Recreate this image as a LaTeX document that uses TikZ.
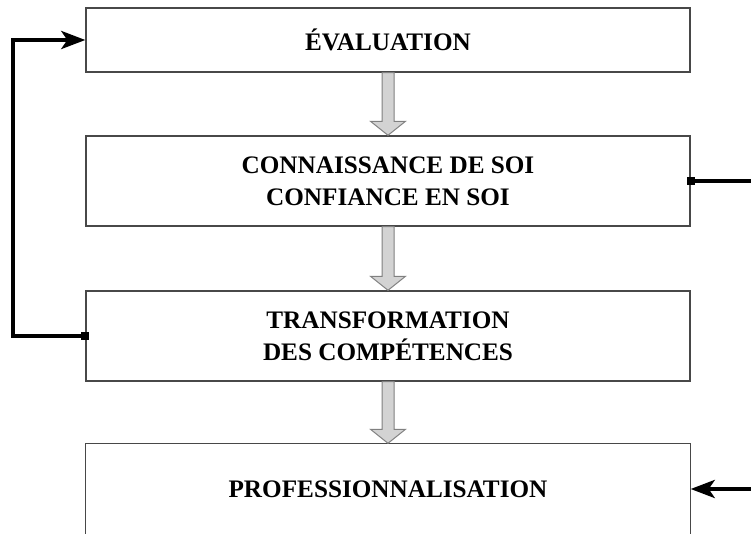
\documentclass[tikz,border=0pt]{standalone}
\usepackage{fontspec}
\setmainfont{Liberation Serif}
\usetikzlibrary{calc,arrows.meta}
\definecolor{boxline}{HTML}{484848}
\definecolor{arrfill}{HTML}{D3D3D3}
\definecolor{arrline}{HTML}{808080}
\tikzset{
  box/.style={draw=boxline, line width=0.7pt, minimum width=302pt, minimum height=#1, inner sep=0pt,
    align=center, font=\fontsize{12.6pt}{16pt}\selectfont\bfseries},
  blockarr/.style={draw=arrline, fill=arrfill, line width=0.5pt, line join=miter},
  conn/.style={line width=2pt, draw=black},
  tip/.style={-{Stealth[length=12pt,width=9pt,inset=3pt]}},
  marker/.style={fill=black, minimum size=4pt, inner sep=0pt}
}
\begin{document}
\begin{tikzpicture}[x=0.5pt,y=-0.5pt]
\clip (0,0) rectangle (751,534);
\useasboundingbox (0,0) rectangle (751,534);
\node[box=32pt] (b1) at (388,40) {ÉVALUATION};
\node[box=45pt] (b2) at (388,181) {CONNAISSANCE DE SOI\\CONFIANCE EN SOI};
\node[box=45pt] (b3) at (388,336) {TRANSFORMATION\\DES COMPÉTENCES};
\node[box=45pt, draw=none] (b4) at (388,489) {PROFESSIONNALISATION};
\draw[draw=boxline, line width=0.7pt] ($(b4.south west)+(0,10)$) -- (b4.north west) -- (b4.north east) -- ($(b4.south east)+(0,10)$);
% block arrows
\foreach \u/\l in {b1/b2, b2/b3, b3/b4}{
  \draw[blockarr] ($(\u.south)+(-6,0)$) -- ($(\l.north)+(-6,-14)$) -- ($(\l.north)+(-17.5,-14)$)
    -- (\l.north) -- ($(\l.north)+(17.5,-14)$) -- ($(\l.north)+(6,-14)$) -- ($(\u.south)+(6,0)$) -- cycle;
}
% connectors
\coordinate (rout) at (751,181);
\coordinate (rin) at (751,489);
\draw[conn, tip] (b3.west) -- ++(-72,0) |- (b1.west);
\draw[conn] (b2.east) -- (rout);
\draw[conn, tip] (rin) -- (b4.east);
\node[marker] (m1) at (b3.west) {};
\node[marker] (m2) at (b2.east) {};
\end{tikzpicture}
\end{document}
